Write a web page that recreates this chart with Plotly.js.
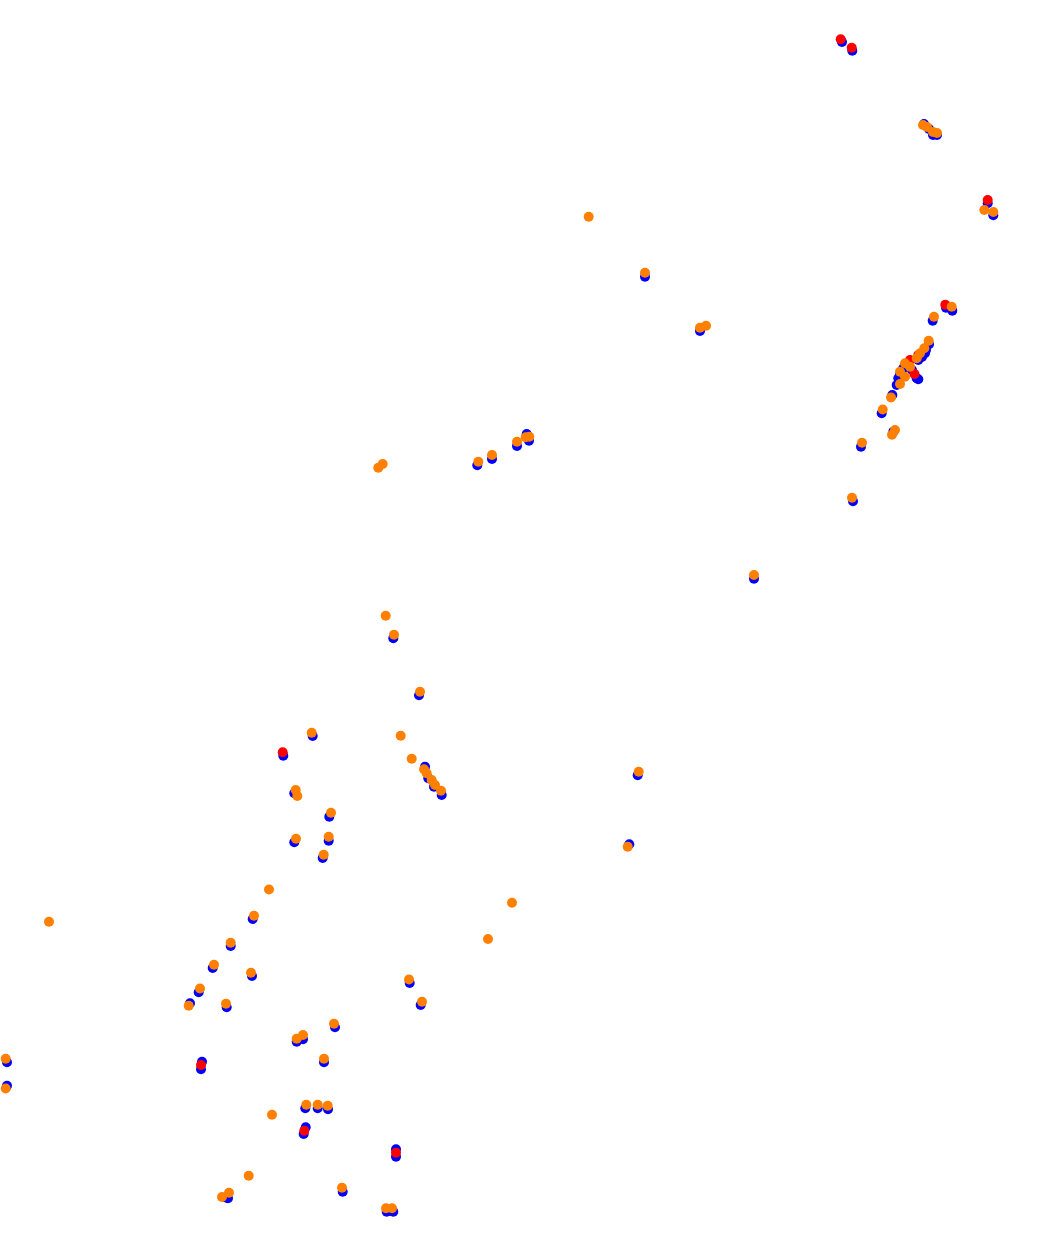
<!DOCTYPE html>
<html>
<head>
<meta charset="utf-8">
<script src="https://cdn.plot.ly/plotly-3.0.1.min.js"></script>
<style>html,body{margin:0;padding:0;background:#fff;}#chart{width:1042px;height:1242px;}</style>
</head>
<body>
<div id="chart"></div>
<script>
// Blue series
const blueX = [842, 852.3, 924, 929, 933, 937, 987.7, 993.3, 946, 952.3, 932.7, 929, 925, 918.3, 903.3, 898.3, 896.7, 918.3, 916.7, 892.3, 881.7, 893.3, 861, 853, 754,
  922, 926, 900, 912, 908,
  645, 700, 477.3, 492, 517, 526.7, 529,
  393.3, 419, 312.7, 283.3, 294.3, 329.3, 294.3, 328.7, 322.7, 425, 428.3, 434, 441.7, 637.7, 629.3,
  252.7, 230.7, 212.7, 252, 198.7, 190, 226.7, 409.7, 420.7, 335, 296.7, 303, 324, 7, 7, 202, 201,
  305.3, 317.7, 328, 305.7, 303.7, 396, 396, 342.7, 228, 226.7, 386.7, 393.3];
const blueY = [42, 50.7, 124, 129, 135, 135, 203.3, 215.3, 307.7, 310.7, 320.7, 344.3, 353.3, 360, 368.3, 378.3, 385, 379.3, 378.3, 395, 413.3, 431.7, 446.7, 501.3, 578.7,
  357, 350, 374, 370, 364,
  276.7, 331, 465.3, 459, 446, 434, 440.7,
  638.3, 695.3, 736, 755.7, 793.3, 816.7, 842.3, 840.7, 858, 766.7, 778.3, 786.7, 795, 775.3, 844.3,
  919, 946, 968, 976, 992.3, 1003.3, 1007.3, 983, 1005, 1027.3, 1041.7, 1039.3, 1062.3, 1062.3, 1085.7, 1061.7, 1069.3,
  1108.3, 1108.3, 1109.3, 1127.3, 1134, 1149.3, 1156.7, 1191.7, 1198.3, 1197.7, 1211.7, 1211.7];

// Red series
const redX = [840.7, 851.7, 987.7, 945.3, 910, 918.3, 914.5, 282.7, 201, 304.3, 396];
const redY = [39.3, 47.7, 200, 304.7, 360, 355, 374, 752.3, 1065, 1130.7, 1152.7];

// Orange series
const orangeX = [923, 927, 933, 937, 984.3, 993.3, 951.7, 934, 928.7, 924.3, 920, 916.7, 905, 910, 900, 905, 900, 891, 882.7, 892, 895, 862, 852, 754,
  588.7, 645, 700, 706, 378.3, 382.7, 478.3, 492, 517, 525.7, 529.3,
  385.7, 394, 420, 400.7, 411.7, 424, 426.7, 431.7, 435, 441, 638.7, 627.7,
  311.7, 295.7, 297.3, 331, 296, 328.7, 323.7,
  49, 269, 254, 230.7, 214, 251, 200, 188.7, 226, 512, 488, 409, 422,
  334, 296.7, 303, 324, 5.7, 5.7, 306.3, 317.7, 327.7, 272, 248.7, 342, 222, 229, 386, 392];
const orangeY = [125, 127, 132, 133, 210, 212, 306.7, 316.7, 340.7, 348.3, 353.3, 358.3, 363.3, 366.7, 371.7, 376.7, 384, 397.5, 409.5, 434.7, 430, 442.7, 497.7, 575,
  216.7, 272.7, 327.7, 325.7, 467.7, 464, 461.7, 455, 441.7, 437.3, 436.7,
  615.7, 634.7, 691.7, 735.7, 758.7, 769.3, 773.3, 780, 785, 790.7, 771.7, 846.7,
  732.7, 790, 796, 812.7, 838.7, 836.7, 854.7,
  921.7, 889.5, 915.7, 942.7, 964.7, 972.7, 988.5, 1005.7, 1003.7, 902.7, 939, 979.5, 1001.7,
  1023.7, 1038.7, 1035, 1058.7, 1058.7, 1088.5, 1104.7, 1104.7, 1105.7, 1114.7, 1175.7, 1187.7, 1197, 1192.7, 1208.3, 1208.3];

const mk = (x, y, color) => ({
  x: x, y: y, type: 'scatter', mode: 'markers',
  marker: {color: color, size: 10, line: {width: 0}},
  hoverinfo: 'x+y'
});

const data = [
  mk(blueX, blueY, '#0000ff'),
  mk(redX, redY, '#ff0000'),
  mk(orangeX, orangeY, '#ff8000')
];

const axisBase = {showgrid: false, zeroline: false, showticklabels: false, showline: false, ticks: ''};
const layout = {
  width: 1042, height: 1242,
  margin: {l: 0, r: 0, t: 0, b: 0},
  paper_bgcolor: '#ffffff', plot_bgcolor: '#ffffff',
  showlegend: false,
  xaxis: Object.assign({range: [0, 1042]}, axisBase),
  yaxis: Object.assign({range: [1242, 0]}, axisBase)
};

Plotly.newPlot('chart', data, layout, {displayModeBar: false, staticPlot: true});
</script>
</body>
</html>
